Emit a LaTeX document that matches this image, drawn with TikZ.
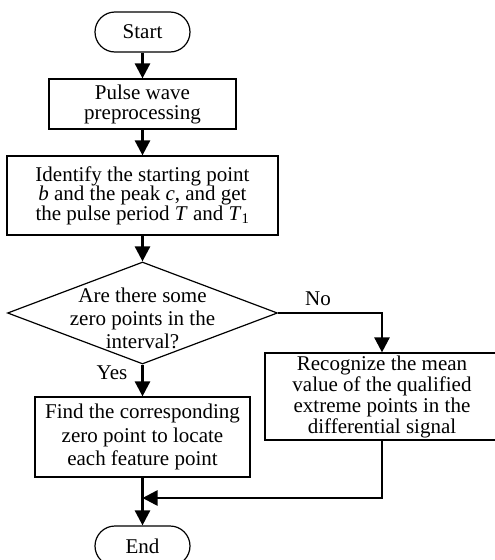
\documentclass[tikz,border=0pt]{standalone}
\usepackage{fontspec}
\setmainfont{Liberation Serif}
\usetikzlibrary{shapes.geometric,arrows.meta}
\begin{document}
\begin{tikzpicture}[x=1pt,y=1pt,
  every node/.style={font=\fontsize{21}{21}\selectfont},
  box/.style={draw,line width=1.2pt,align=center,inner sep=0pt},
  term/.style={box,rounded corners=20pt,minimum width=95pt,minimum height=40pt},
  flow/.style={line width=2.6pt,-{Triangle[length=15pt,width=15pt]}},
  plain/.style={line width=2.6pt}]
\useasboundingbox (0,0) rectangle (495,-560);
\node[term] (start) at (142.5,-32) {Start};
\node[box,minimum width=187pt,minimum height=50pt,font=\fontsize{21}{20}\selectfont] (pulse) at (142.5,-104) {Pulse wave\\preprocessing};
\node[box,minimum width=271pt,minimum height=79pt,font=\fontsize{21}{19.5}\selectfont] (ident) at (142.5,-195.5) {Identify the starting point\\\textit{b} and the peak \textit{c}, and get\\the pulse period \textit{T} and \textit{T}\textsubscript{1}};
\node[diamond,draw,line width=1.2pt,inner sep=0pt,minimum width=270pt,minimum height=102pt] (dec) at (142.5,-313) {};
\node[align=center,inner sep=0pt,font=\fontsize{21}{23}\selectfont] (dectext) at (142.5,-318) {Are there some\\zero points in the\\interval?};
\node[box,minimum width=234pt,minimum height=87pt,font=\fontsize{21}{21}\selectfont] (recog) at (382,-396.5) {Recognize the mean\\value of the qualified\\extreme points in the\\differential signal};
\node[box,minimum width=215pt,minimum height=80pt,font=\fontsize{21}{23.5}\selectfont] (find) at (142.5,-437) {Find the corresponding\\zero point to locate\\each feature point};
\node[term] (end) at (142.5,-546) {End};
\coordinate (merge) at (142.5,-498);
\coordinate (corner) at (382,-313);
\coordinate (corner2) at (382,-498);
\node (no) at (318,-299) {No};
\node (yes) at (112,-373) {Yes};
\draw[flow] (start) -- (pulse);
\draw[flow] (pulse) -- (ident);
\draw[flow] (ident) -- (dec.north);
\draw[flow] (dec.east) -- (corner) -- (recog.north);
\draw[flow] (dec.south) -- (find);
\draw[plain] (find) -- (merge);
\draw[flow] (merge) -- (end);
\draw[flow] (recog.south) -- (corner2) -- (merge);
\end{tikzpicture}
\end{document}
